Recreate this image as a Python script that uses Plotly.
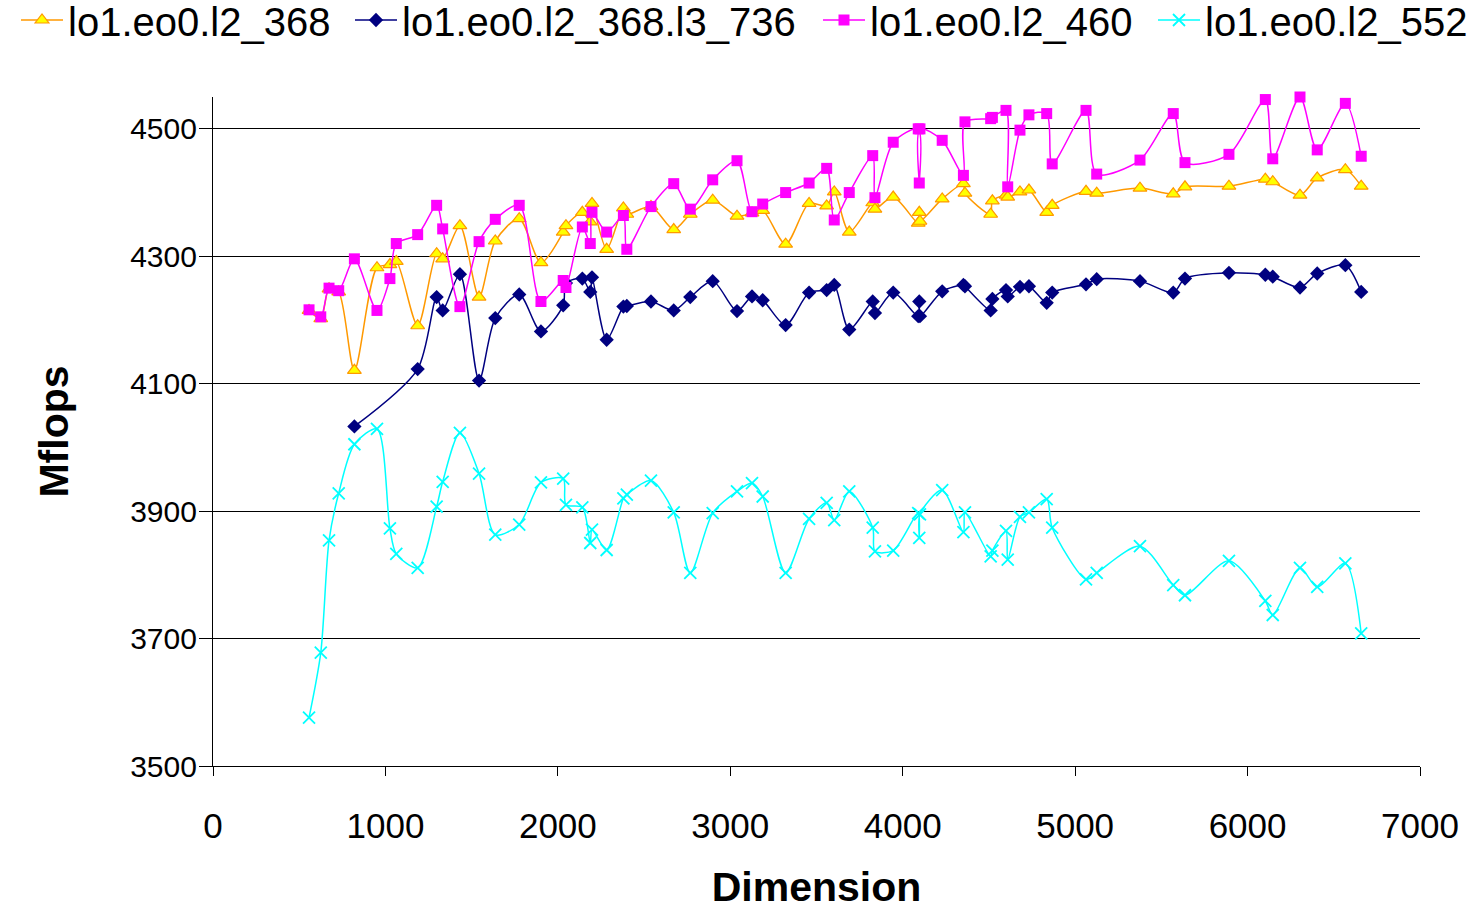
import plotly.graph_objects as go

# Matrix dimensions (x values shared by all series)
dims = [557, 625, 673, 729, 820, 951, 1026, 1063, 1187, 1297, 1332, 1432, 1543, 1637,
        1776, 1902, 2031, 2047, 2142, 2188, 2198, 2283, 2380, 2400, 2540, 2672, 2768,
        2898, 3039, 3126, 3188, 3321, 3457, 3559, 3603, 3690, 3826, 3839, 3945, 4090,
        4096, 4100, 4229, 4352, 4361, 4510, 4520, 4599, 4609, 4680, 4732, 4835, 4867,
        5063, 5125, 5376, 5569, 5637, 5892, 6103, 6146, 6304, 6404, 6567, 6659]

l2_368 = [4215, 4202, 4249, 4244, 4121, 4282, 4287, 4292, 4191, 4304, 4296, 4348, 4236,
          4324, 4359, 4290, 4338, 4348, 4369, 4354, 4383, 4311, 4376, 4366, 4378, 4342,
          4366, 4388, 4363, 4368, 4372, 4319, 4383, 4379, 4401, 4338, 4384, 4374, 4393,
          4352, 4369, 4355, 4390, 4414, 4399, 4366, 4387, 4396, 4393, 4401, 4404, 4369,
          4380, 4402, 4399, 4407, 4398, 4409, 4410, 4421, 4417, 4396, 4423, 4436, 4410]

l2_368_l3_736 = [None, None, None, None, 4033, None, None, None, 4123, 4236, 4215, 4272,
                 4105, 4203, 4240, 4182, 4223, 4258, 4265, 4244, 4267, 4169, 4221, 4222,
                 4229, 4215, 4236, 4261, 4214, 4237, 4231, 4192, 4243, 4247, 4255, 4185,
                 4229, 4211, 4243, 4206, 4229, 4206, 4245, 4255, 4253, 4215, 4233, 4247,
                 4237, 4252, 4253, 4227, 4243, 4256, 4264, 4261, 4243, 4265, 4274, 4271,
                 4268, 4251, 4273, 4286, 4244]

l2_460 = [4216, 4205, 4250, 4246, 4296, 4215, 4265, 4320, 4334, 4380, 4343, 4221, 4323,
          4358, 4380, 4229, 4262, 4251, 4346, 4320, 4369, 4338, 4364, 4311, 4378, 4414,
          4374, 4420, 4450, 4370, 4382, 4400, 4415, 4438, 4357, 4400, 4458, 4392, 4479,
          4500, 4415, 4500, 4482, 4427, 4511, 4516, 4518, 4529, 4409, 4498, 4522, 4524,
          4445, 4529, 4429, 4451, 4524, 4447, 4460, 4546, 4453, 4550, 4467, 4540, 4457]

l2_552 = [3576, 3678, 3854, 3928, 4005, 4029, 3873, 3833, 3811, 3907, 3946, 4023, 3959,
          3863, 3879, 3945, 3951, 3910, 3906, 3850, 3871, 3839, 3920, 3926, 3948, 3898,
          3803, 3897, 3931, 3944, 3923, 3803, 3888, 3913, 3886, 3931, 3874, 3837, 3838,
          3897, 3858, 3895, 3933, 3867, 3898, 3829, 3838, 3869, 3824, 3891, 3898, 3919,
          3874, 3793, 3803, 3845, 3784, 3768, 3822, 3759, 3737, 3811, 3781, 3818, 3708]

names = ["lo1.eo0.l2_368", "lo1.eo0.l2_368.l3_736", "lo1.eo0.l2_460", "lo1.eo0.l2_552"]
y_ticks = [3500, 3700, 3900, 4100, 4300, 4500]
x_ticks = [0, 1000, 2000, 3000, 4000, 5000, 6000, 7000]

FONT = "Liberation Sans, Arial, sans-serif"
W, H = 1479, 910

fig = go.Figure()


def pairs(xs, ys):
    px, py = [], []
    for a, b in zip(xs, ys):
        if b is not None:
            px.append(a)
            py.append(b)
    return px, py


x0, y0 = pairs(dims, l2_368)
fig.add_trace(go.Scatter(
    x=x0, y=y0, name=names[0], mode="lines+markers", legend="legend",
    line=dict(color="#FF9900", width=1.5, shape="spline", smoothing=0.8),
    marker=dict(symbol="triangle-up", size=12, color="#FFFF00",
                line=dict(color="#FF9900", width=1.2)),
    cliponaxis=False))

x1, y1 = pairs(dims, l2_368_l3_736)
fig.add_trace(go.Scatter(
    x=x1, y=y1, name=names[1], mode="lines+markers", legend="legend2",
    line=dict(color="#000080", width=1.5, shape="spline", smoothing=0.8),
    marker=dict(symbol="diamond", size=11, color="#000080",
                line=dict(color="#000080", width=0)),
    cliponaxis=False))

x2, y2 = pairs(dims, l2_460)
fig.add_trace(go.Scatter(
    x=x2, y=y2, name=names[2], mode="lines+markers", legend="legend3",
    line=dict(color="#FF00FF", width=1.5, shape="spline", smoothing=0.8),
    marker=dict(symbol="square", size=11, color="#FF00FF",
                line=dict(color="#FF00FF", width=0)),
    cliponaxis=False))

x3, y3 = pairs(dims, l2_552)
fig.add_trace(go.Scatter(
    x=x3, y=y3, name=names[3], mode="lines+markers", legend="legend4",
    line=dict(color="#00FFFF", width=1.5, shape="spline", smoothing=0.8),
    marker=dict(symbol="x-thin", size=12, color="#00FFFF",
                line=dict(color="#00FFFF", width=1.8)),
    cliponaxis=False))


def leg(left_px):
    return dict(orientation="h", x=left_px / W, xanchor="left", xref="container",
                y=1 - 20 / H, yanchor="middle", yref="container",
                font=dict(size=40, family=FONT, color="black"),
                itemwidth=42, bgcolor="rgba(0,0,0,0)", borderwidth=0)


fig.update_layout(
    width=W, height=H,
    margin=dict(l=213, r=59, t=97, b=144, autoexpand=False),
    paper_bgcolor="white", plot_bgcolor="white",
    font=dict(family=FONT, color="black"),
    showlegend=True,
    legend=leg(16), legend2=leg(350), legend3=leg(818), legend4=leg(1153),
    xaxis=dict(range=[0, 7000], tickvals=x_ticks, ticktext=[str(v) for v in x_ticks],
               showline=True, linecolor="black", linewidth=1.2,
               ticks="outside", ticklen=9, tickcolor="black",
               showgrid=False, zeroline=False,
               tickfont=dict(size=35, family=FONT),
               ticklabelstandoff=20,
               title=dict(text="<b>Dimension</b>", font=dict(size=41, family=FONT),
                          standoff=38)),
    yaxis=dict(range=[3500, 4550], tickvals=y_ticks, ticktext=[str(v) for v in y_ticks],
               showline=True, linecolor="black", linewidth=1.2,
               ticks="outside", ticklen=13, tickcolor="black",
               showgrid=True, gridcolor="black", gridwidth=1,
               zeroline=False,
               tickfont=dict(size=30, family=FONT),
               ticklabelstandoff=-4,
               title=dict(text="<b>Mflops</b>", font=dict(size=41, family=FONT),
                          standoff=48)),
)

fig.write_html("out.html")
